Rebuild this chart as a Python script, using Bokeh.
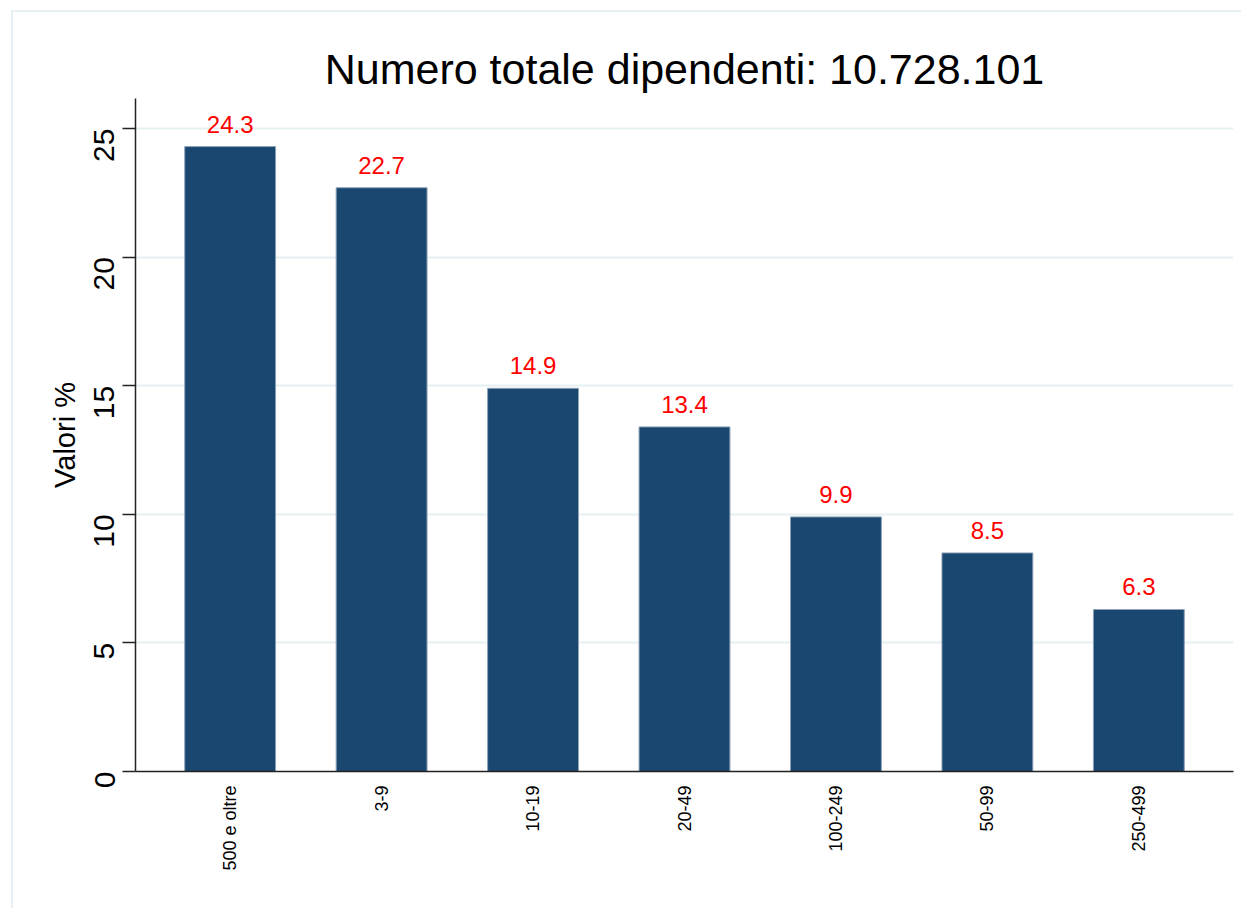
import math
from bokeh.plotting import figure
from bokeh.models import ColumnDataSource, FactorRange, Range1d, LabelSet, FixedTicker
from bokeh.core.properties import value
from bokeh.embed import file_html
from bokeh.resources import INLINE

categories = ["500 e oltre", "3-9", "10-19", "20-49", "100-249", "50-99", "250-499"]
values = [24.3, 22.7, 14.9, 13.4, 9.9, 8.5, 6.3]
value_labels = ["24.3", "22.7", "14.9", "13.4", "9.9", "8.5", "6.3"]
y_ticks = [0, 5, 10, 15, 20, 25]
title_text = "Numero totale dipendenti: 10.728.101"
y_label = "Valori %"

FONT = "Liberation Sans"

src = ColumnDataSource(dict(cat=categories, val=values, lab=value_labels))

p = figure(
    x_range=FactorRange(*categories, range_padding=0.25 / 7),
    y_range=Range1d(0, 26.17),
    width=1241, height=908,
    output_backend="svg", toolbar_location=None,
    min_border_left=135, min_border_right=8, min_border_top=98, min_border_bottom=137,
    title=title_text,
    styles={"background-color": "white",
            "box-shadow": "inset 11px 10px 0 0 white, inset 13px 12px 0 0 #e6eff1"},
)
p.border_fill_color = None
p.background_fill_color = None
p.outline_line_color = None

p.title.align = "center"
p.title.text_font = FONT
p.title.text_font_size = "43px"
p.title.text_font_style = "normal"
p.title.text_color = "black"
p.title.standoff = 12

p.vbar(x="cat", top="val", width=0.6, source=src,
       fill_color="#1a476f", line_color="#8da2b8", line_width=1)

labels = LabelSet(x="cat", y="val", text="lab", source=src,
                  text_align="center", text_baseline="alphabetic", y_offset=14,
                  text_color="red", text_font_size="24px", text_font=value(FONT))
p.add_layout(labels)

p.ygrid.grid_line_color = "#e6eff1"
p.ygrid.grid_line_width = 2
p.xgrid.grid_line_color = None

ya = p.yaxis[0]
ya.ticker = FixedTicker(ticks=y_ticks)
ya.major_label_orientation = math.pi / 2
ya.major_label_text_font = FONT
ya.major_label_text_font_size = "30px"
ya.major_label_text_color = "black"
ya.major_tick_out = 13
ya.major_tick_in = 0
ya.minor_tick_line_color = None
ya.axis_line_color = "#222222"
ya.axis_line_width = 1.5
ya.major_tick_line_color = "#222222"
ya.major_tick_line_width = 1.5
ya.major_label_standoff = 18
ya.axis_label = y_label
ya.axis_label_text_font = FONT
ya.axis_label_text_font_size = "29px"
ya.axis_label_text_font_style = "normal"
ya.axis_label_text_color = "black"
ya.axis_label_standoff = 1

xa = p.xaxis[0]
xa.major_label_orientation = math.pi / 2
xa.major_label_text_font = FONT
xa.major_label_text_font_size = "18px"
xa.major_label_text_color = "black"
xa.major_tick_line_color = None
xa.major_tick_out = 0
xa.major_tick_in = 0
xa.minor_tick_line_color = None
xa.major_label_standoff = 14
xa.axis_line_color = "#222222"
xa.axis_line_width = 1.5

open("out.html", "w").write(file_html(p, INLINE))
